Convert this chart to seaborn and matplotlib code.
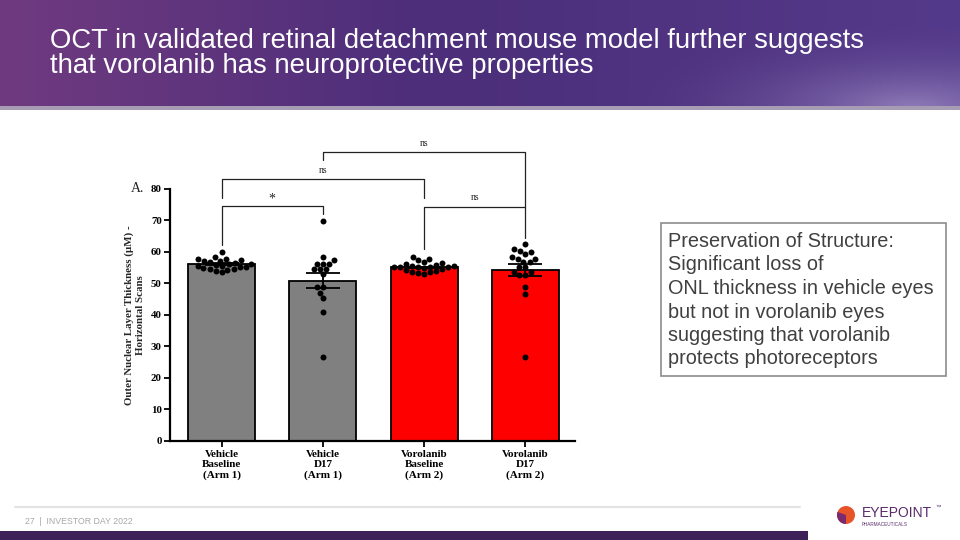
import numpy as np
import pandas as pd
import matplotlib
matplotlib.use("Agg")
import matplotlib.pyplot as plt
import seaborn as sns
from matplotlib.patches import Rectangle, Circle, Wedge, Arc

# ---------------- data ----------------
categories = ["Vehicle\nBaseline\n(Arm 1)", "Vehicle\nD17\n(Arm 1)",
              "Vorolanib\nBaseline\n(Arm 2)", "Vorolanib\nD17\n(Arm 2)"]
means = [56.0, 50.8, 55.0, 54.2]
sems = [0.35, 2.3, 0.3, 1.95]
bar_colors = ["#808080", "#808080", "#ff0000", "#ff0000"]

vehicle_baseline = [60.0, 58.3, 57.8, 57.7, 57.5, 57.2, 57.0, 56.6, 56.4, 56.2, 56.0,
                    55.8, 55.6, 55.4, 55.2, 55.0, 54.8, 54.6, 54.4, 54.2, 53.9, 53.5]
vehicle_d17 = [69.7, 58.3, 57.5, 56.2, 56.2, 56.2, 54.5, 54.5, 54.5, 52.8,
               48.9, 48.9, 47.0, 45.4, 41.0, 26.5]
vorolanib_baseline = [58.4, 57.8, 57.3, 56.8, 56.4, 56.1, 55.9, 55.6, 55.4, 55.3, 55.2,
                      55.2, 55.1, 55.0, 54.8, 54.5, 54.2, 53.9, 53.6, 53.4, 53.1, 52.9]
vorolanib_d17 = [62.4, 60.9, 60.3, 60.0, 59.2, 58.4, 57.7, 57.7, 56.8, 56.8,
                 55.0, 55.0, 53.5, 53.5, 52.6, 52.6, 48.7, 46.7, 26.7]
groups = [vehicle_baseline, vehicle_d17, vorolanib_baseline, vorolanib_d17]

yticks = [0, 10, 20, 30, 40, 50, 60, 70, 80]

# significance brackets: (left idx, right idx, bar height, left leg bottom, right leg bottom, label)
br_left = [0, 0, 2, 1]
br_right = [1, 2, 3, 3]
br_height = [74.5, 83.1, 74.3, 91.6]
br_leg_l = [62.0, 77.0, 60.8, 89.1]
br_leg_r = [71.9, 77.0, 64.3, 74.3]
br_label = ["*", "ns", "ns", "ns"]

title_lines = ["OCT in validated retinal detachment mouse model further suggests",
               "that vorolanib has neuroprotective properties"]
box_text = ("Preservation of Structure:\nSignificant loss of\nONL thickness in vehicle eyes\n"
            "but not in vorolanib eyes\nsuggesting that vorolanib\nprotects photoreceptors")

# ---------------- figure ----------------
sns.set_theme(style="ticks")
plt.rcParams["font.family"] = ["Liberation Sans", "DejaVu Sans"]
SERIF = ["Liberation Serif", "DejaVu Serif"]

fig = plt.figure(figsize=(9.6, 5.4), dpi=100)
fig.patch.set_facecolor("white")

# background / decoration axes in pixel coordinates
bg = fig.add_axes([0, 0, 1, 1], zorder=-5)
bg.set_xlim(0, 960)
bg.set_ylim(540, 0)
bg.axis("off")

# header gradient
W, H = 960, 108
xx, yy = np.meshgrid(np.linspace(0, 1, W), np.linspace(0, 1, H))
c_left = np.array([112, 58, 128]) / 255
c_mid = np.array([76, 46, 122]) / 255
c_right = np.array([84, 58, 138]) / 255
t = xx[..., None]
img = np.where(t < 0.45, c_left + (c_mid - c_left) * (t / 0.45),
               c_mid + (c_right - c_mid) * ((t - 0.45) / 0.55))
d = np.sqrt(((xx - 0.95) * 2.6) ** 2 + ((yy - 1.0) * 1.0) ** 2)
glow = np.clip(1 - d / 0.8, 0, 1) ** 2 * 0.45
img = img + (np.array([0.85, 0.8, 0.95]) - img) * glow[..., None]
bg.imshow(img, extent=[0, 960, 108, 0], aspect="auto", zorder=0)
bg.add_patch(Rectangle((0, 106), 960, 4, color="#a69cb4", zorder=1, lw=0))
for i, line in enumerate(title_lines):
    bg.text(50, 48 + 25 * i, line, color="white", fontsize=19.8, va="baseline", ha="left")

# footer
bg.plot([15, 800], [507, 507], color="#e3e3e3", lw=1.5)
bg.text(25, 522, "27  |  INVESTOR DAY 2022", color="#a8a8a8", fontsize=6.3, va="center")
bg.add_patch(Rectangle((0, 531), 960, 9, color="#3e2158", lw=0))
bg.add_patch(Arc((980, 560), 360, 150, theta1=95, theta2=180, color="#e6e6e6", lw=1.2))
bg.add_patch(Rectangle((808, 531), 152, 9, color="white", lw=0))
bg.add_patch(Circle((846, 515), 9, color="#e8542a", lw=0))
bg.add_patch(Wedge((846, 515), 9, 90, 200, color="#7a2a6e", lw=0))
bg.text(862, 513, "EYEPOINT", color="#5a2b6a", fontsize=10, va="center", ha="left")
bg.text(862, 524.5, "PHARMACEUTICALS", color="#5a2b6a", fontsize=3.3, va="center", ha="left")
bg.text(935, 507, "™", color="#5a2b6a", fontsize=4, va="center")

# text box
bg.add_patch(Rectangle((661, 223), 285, 153, fill=False, edgecolor="#8c8c8c", lw=1.2))
bg.text(668, 232, box_text, color="#404040", fontsize=14.3, va="top", ha="left", linespacing=1.3)

# ---------------- chart ----------------
ax = fig.add_axes([170 / 960, 1 - 440.7 / 540, 405 / 960, 252 / 540])
ax.set_facecolor("none")

bar_df = pd.DataFrame({"group": categories, "mean": means})
sns.barplot(data=bar_df, x="group", y="mean", hue="group", order=categories,
            palette=dict(zip(categories, bar_colors)), legend=False, saturation=1,
            width=0.66, edgecolor="black", linewidth=1.3, errorbar=None, ax=ax, zorder=2)

pts = pd.DataFrame({"group": np.repeat(categories, [len(g) for g in groups]),
                    "value": np.concatenate(groups)})
sns.swarmplot(data=pts, x="group", y="value", order=categories, color="black",
              size=4.3, ax=ax, zorder=4)

ax.errorbar(np.arange(len(categories)), means, yerr=sems, fmt="none", ecolor="black",
            elinewidth=1.3, capsize=12, capthick=1.3, zorder=5)

ax.set_xlim(-0.51, 3.49)
ax.set_ylim(0, 80)
ax.set_yticks(yticks)
ax.set_xlabel("")
ax.set_ylabel("Outer Nuclear Layer Thickness (µM) -\nHorizontal Scans",
              fontsize=7.8, fontweight="bold", family=SERIF, labelpad=4, linespacing=1.25)
sns.despine(ax=ax)
for s in ["left", "bottom"]:
    ax.spines[s].set_linewidth(1.6)
    ax.spines[s].set_color("black")
ax.tick_params(axis="both", direction="out", length=4, width=1.3, colors="black",
               labelsize=7.8, pad=2)
ax.tick_params(axis="x", pad=3)
for lab in ax.get_yticklabels():
    lab.set_fontfamily(SERIF)
    lab.set_fontweight("bold")
ax.set_xticks(range(len(categories)))
ax.set_xticklabels(categories, fontsize=8, fontweight="bold", family=SERIF, linespacing=1.15)

ax.text(-0.76, 80, "A.", fontsize=10, family=SERIF, ha="right", va="center", clip_on=False)

for l, r, h, ll, lr, lab in zip(br_left, br_right, br_height, br_leg_l, br_leg_r, br_label):
    ax.plot([l, l, r, r], [ll, h, h, lr], color="#222222", lw=0.9, clip_on=False, zorder=6)
    fs = 10 if lab == "*" else 7
    dy = 2.2 if lab == "*" else 2.8
    ax.text((l + r) / 2, h + dy, lab, ha="center", va="center", fontsize=fs,
            family=SERIF, clip_on=False)

fig.savefig("out.png", dpi=100)
